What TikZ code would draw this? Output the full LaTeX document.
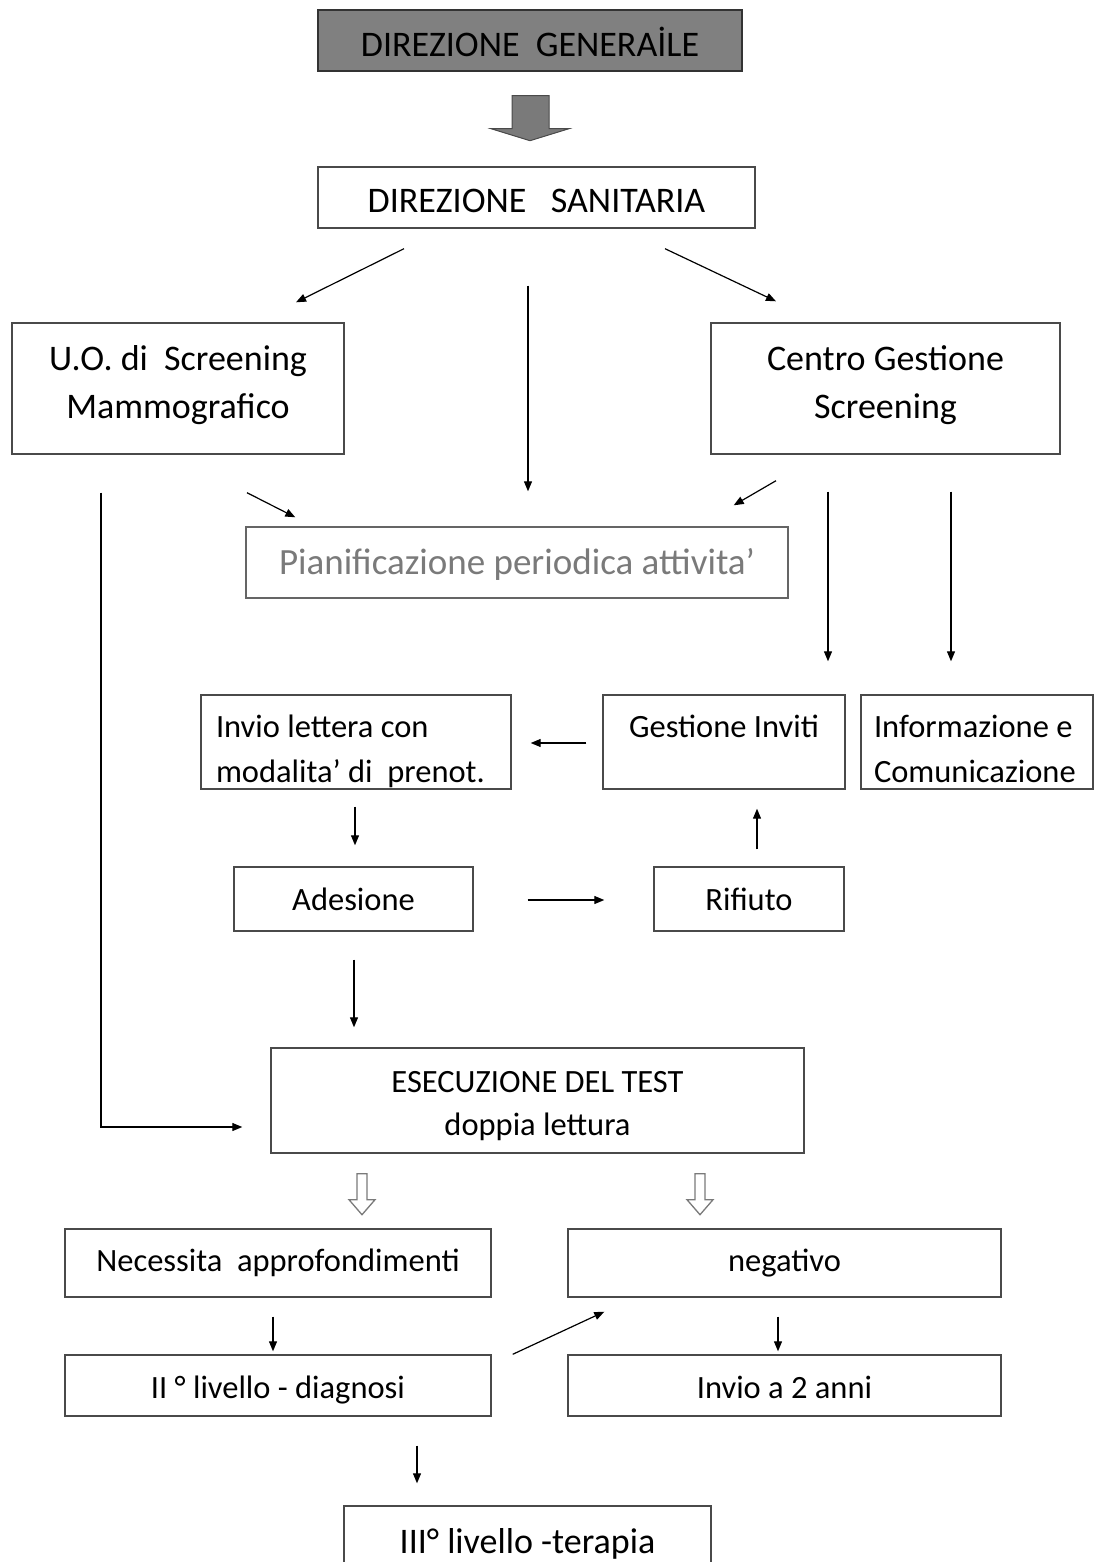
\documentclass[tikz,border=0pt]{standalone}
\usepackage{fontspec}
\setmainfont{Carlito}
\usetikzlibrary{arrows.meta,calc}
\definecolor{edge}{HTML}{4A4A4A}
\definecolor{boxgray}{HTML}{808080}
\definecolor{soft}{HTML}{7A7A7A}
\begin{document}
\begin{tikzpicture}[x=1pt,y=-1pt,
  box/.style={draw=edge,line width=1.4pt,fill=white,inner sep=0pt,font=\fontsize{36}{48}\selectfont},
  midbox/.style={box,font=\fontsize{32.5}{45}\selectfont},
  tb/.style 2 args={text height=#1pt,text depth=#2pt},
  arr/.style={draw=black,line width=1.2pt,-{Triangle[length=10pt,width=8pt]}},
  hollow/.style={draw=soft,line width=1.3pt,fill=white,line join=miter}
]
\useasboundingbox (0,0) rectangle (1093,1562);
\fill[white] (0,0) rectangle (1093,1562);

% top of the hierarchy
\node[box,tb={39}{6},fill=boxgray,draw=black!80,minimum width=424pt,minimum height=61pt] (dg) at (530,40.5) {DIREZIONE\ \ GENERAİLE};
\node[box,tb={37}{6},minimum width=437pt,minimum height=61pt] (ds) at (536.5,197.5) {DIREZIONE\ \ \ SANITARIA};

% thick grey block arrow between the two directions
\filldraw[fill=boxgray!95!black,draw=edge,line width=1pt]
  ($(dg.south)+(-18,24)$) -- ($(dg.south)+(19,24)$) -- ($(dg.south)+(19,57)$) --
  ($(dg.south)+(39,57)$) -- ($(dg.south)+(0,69)$) -- ($(dg.south)+(-39,57)$) --
  ($(dg.south)+(-18,57)$) -- cycle;

% second level
\node[box,tb={65}{6},minimum width=332pt,minimum height=131pt,align=center] (uo) at (178,388.5) {U.O. di\ \ Screening\\Mammografico};
\node[box,tb={65}{6},minimum width=349pt,minimum height=131pt,align=center] (cg) at (885.5,388.5) {Centro Gestione\\Screening};
\node[box,tb={29}{6},draw=edge!85,text=soft,font=\fontsize{37}{48}\selectfont,minimum width=542pt,minimum height=71pt] (pp) at (517,562.5) {Pianificazione periodica attivita’};

% invitation cycle
\node[midbox,tb={25}{35},minimum width=310pt,minimum height=94pt,align=flush left,text width=280pt] (inv) at (356,742) {Invio lettera con\\modalita’ di\ \ prenot.};
\node[midbox,tb={25}{35},minimum width=242pt,minimum height=94pt] (gi) at (724,742) {Gestione Inviti};
\node[midbox,tb={25}{35},minimum width=232pt,minimum height=94pt,align=flush left,text width=206pt] (ic) at (977,742) {Informazione e\\Comunicazione};
\node[midbox,tb={29}{6},minimum width=239pt,minimum height=64pt] (ad) at (353.5,899) {Adesione};
\node[midbox,tb={29}{6},minimum width=190pt,minimum height=64pt] (rf) at (749,899) {Rifiuto};

% test and outcomes
\node[midbox,tb={75}{6},minimum width=533pt,minimum height=105pt,align=center,font=\fontsize{32.5}{43}\selectfont] (ex) at (537.5,1100.5) {ESECUZIONE DEL TEST\\doppia lettura};
\node[midbox,tb={23}{6},minimum width=426pt,minimum height=68pt] (ne) at (278,1263) {Necessita\ \ approfondimenti};
\node[midbox,tb={22}{6},minimum width=433pt,minimum height=68pt] (neg) at (784.5,1263) {negativo};
\node[midbox,tb={31}{6},minimum width=426pt,minimum height=61pt] (ii) at (278,1385.5) {II ° livello - diagnosi};
\node[midbox,tb={31}{6},minimum width=433pt,minimum height=61pt] (ia) at (784.5,1385.5) {Invio a 2 anni};
\node[box,tb={36}{6},minimum width=367pt,minimum height=64pt] (iii) at (527.5,1538) {III° livello -terapia};

% connectors from the health direction
\draw[arr] ($(ds.south)+(-132.5,20)$) -- ($(uo.north)+(118,-20)$);
\draw[arr] ($(ds.south)+(-8.5,57)$) -- ($(pp.north)+(11,-35)$);
\draw[arr] ($(ds.south)+(128.5,20)$) -- ($(cg.north)+(-109.5,-21)$);

% into the planning box
\draw[arr] ($(uo.south)+(69,38)$) -- ($(pp.north west)+(50,-9)$);
\draw[arr] ($(cg.south)+(-109.5,26)$) -- ($(pp.north east)+(-55,-21)$);

% long path from the screening unit to the test
\draw[arr] ($(uo.south)+(-77,38)$) |- ($(ex.west)+(-28,26.5)$);

% from the screening centre downwards
\draw[arr] ($(cg.south)+(-57.5,37)$) -- ($(gi.north)+(104,-33)$);
\draw[arr] ($(cg.south)+(65.5,37)$) -- ($(ic.north)+(-26,-33)$);

% invitation cycle
\draw[arr] ($(gi.west)+(-16,1)$) -- ($(inv.east)+(19,1)$);
\draw[arr] ($(inv.south)+(-1,17)$) -- ($(ad.north)+(1.5,-21)$);
\draw[arr] ($(rf.north)+(8,-17)$) -- ($(gi.south)+(33,19)$);
\draw[arr] ($(ad.east)+(54,1)$) -- ($(rf.west)+(-49,1)$);
\draw[arr] ($(ad.south)+(0.5,28)$) -- ($(ex.north)+(-183.5,-20)$);

% hollow block arrows below the test
\foreach \dx in {-175.5, 162.5}{
  \draw[hollow] ($(ex.south)+(\dx-5,20)$) -- ($(ex.south)+(\dx+5,20)$) -- ($(ex.south)+(\dx+5,46)$) --
    ($(ex.south)+(\dx+13,46)$) -- ($(ex.south)+(\dx,61)$) -- ($(ex.south)+(\dx-13,46)$) --
    ($(ex.south)+(\dx-5,46)$) -- cycle;
}

% lower levels
\draw[arr] ($(ne.south)+(-5,19)$) -- ($(ii.north)+(-5,-3)$);
\draw[arr] ($(ii.north east)+(21,0)$) -- ($(neg.south west)+(37,14)$);
\draw[arr] ($(neg.south)+(-6.5,19)$) -- ($(ia.north)+(-6.5,-3)$);
\draw[arr] ($(ii.south)+(139,29)$) -- ($(iii.north)+(-110.5,-22)$);
\end{tikzpicture}
\end{document}
